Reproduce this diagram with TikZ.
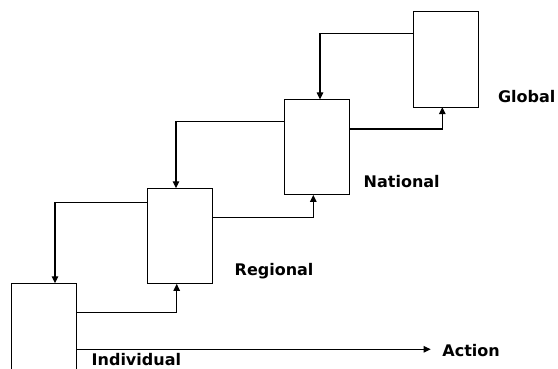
\documentclass[tikz,border=0pt]{standalone}
\usepackage{fontspec}
\setmainfont{DejaVu Sans}
\usetikzlibrary{arrows.meta,calc}
\tikzset{
  level/.style={draw, line width=1.2pt, rectangle, minimum width=65pt,
    minimum height=95.5pt, inner sep=0pt, outer sep=0pt},
  flow/.style={line width=1.2pt, -{Triangle[length=7pt,width=6.5pt]}},
  tag/.style={font=\bfseries\fontsize{16}{18}\selectfont, inner sep=0pt,
    anchor=base west}
}
\begin{document}
\begin{tikzpicture}[x=1pt,y=-1pt]
  \useasboundingbox (0,0) rectangle (558,369);
  \clip (0,0) rectangle (558,369);

  % the four levels
  \node[level] (ind)  at (44.2,331.05) {};
  \node[level] (reg)  at (179.9,236.05) {};
  \node[level] (nat)  at (316.7,147.15) {};
  \node[level] (glob) at (445.7,59.45) {};

  % labels
  \node[tag] (lind)  at (91.5,365.8) {Individual};
  \node[tag] (lreg)  at (234.5,276) {Regional};
  \node[tag] (lnat)  at (363.5,187.3) {National};
  \node[tag] (lglob) at (497.8,102.3) {Global};
  \node[tag] (lact)  at (442.2,356) {Action};
  \coordinate (acttip) at (430.7,349.3);

  % upward flows
  \draw[flow] ($(ind.north east)+(0,29.4)$) -| ($(reg.south)+(-3.2,0)$);
  \draw[flow] ($(reg.north east)+(0,29.4)$) -| ($(nat.south)+(-3.4,0)$);
  \draw[flow] ($(nat.north east)+(0,29.7)$) -| ($(glob.south)+(-3.4,0)$);

  % downward feedback
  \draw[flow] ($(reg.north west)+(0,14.2)$) -| ($(ind.north)+(10.8,0)$);
  \draw[flow] ($(nat.north west)+(0,22.4)$) -| ($(reg.north)+(-3.9,0)$);
  \draw[flow] ($(glob.north west)+(0,21.6)$) -| ($(nat.north)+(3.3,0)$);

  % action
  \draw[flow] ($(ind.north east)+(0,66)$) -- (acttip);
\end{tikzpicture}
\end{document}
